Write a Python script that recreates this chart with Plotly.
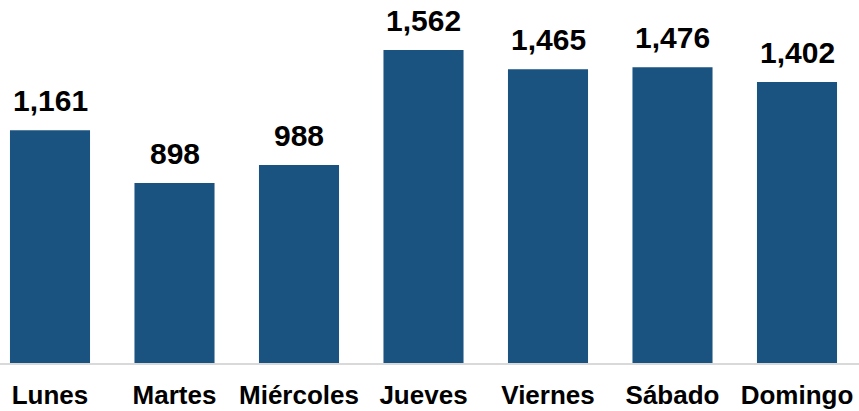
import plotly.graph_objects as go

dias = ["Lunes", "Martes", "Miércoles", "Jueves", "Viernes", "Sábado", "Domingo"]
valores = [1161, 898, 988, 1562, 1465, 1476, 1402]

BAR_COLOR = "#1a5280"
FONT = "Liberation Sans, Arial, sans-serif"

fig = go.Figure()
fig.add_trace(go.Bar(
    x=list(range(len(dias))),
    y=valores,
    marker=dict(color=BAR_COLOR, line=dict(width=0)),
    width=0.643,
    hoverinfo="skip",
))

for i, v in enumerate(valores):
    fig.add_annotation(
        x=i, y=v, text=f"<b>{v:,}</b>", showarrow=False,
        yanchor="bottom", yshift=11,
        font=dict(family=FONT, size=30, color="#000000"),
    )

fig.update_layout(
    width=859, height=411,
    margin=dict(l=0, r=0, t=0, b=48),
    paper_bgcolor="white", plot_bgcolor="white",
    showlegend=False,
    xaxis=dict(
        range=[-0.4016, 6.498],
        tickmode="array",
        tickvals=list(range(len(dias))),
        ticktext=[f"<b>{d}</b>" for d in dias],
        tickfont=dict(family=FONT, size=26, color="#000000"),
        showgrid=False, zeroline=False,
        showline=True, linecolor="#d9d9d9", linewidth=2,
        ticks="", ticklabelstandoff=8,
    ),
    yaxis=dict(range=[0, 1811], visible=False, showgrid=False, zeroline=False),
)

fig.write_html("out.html")
